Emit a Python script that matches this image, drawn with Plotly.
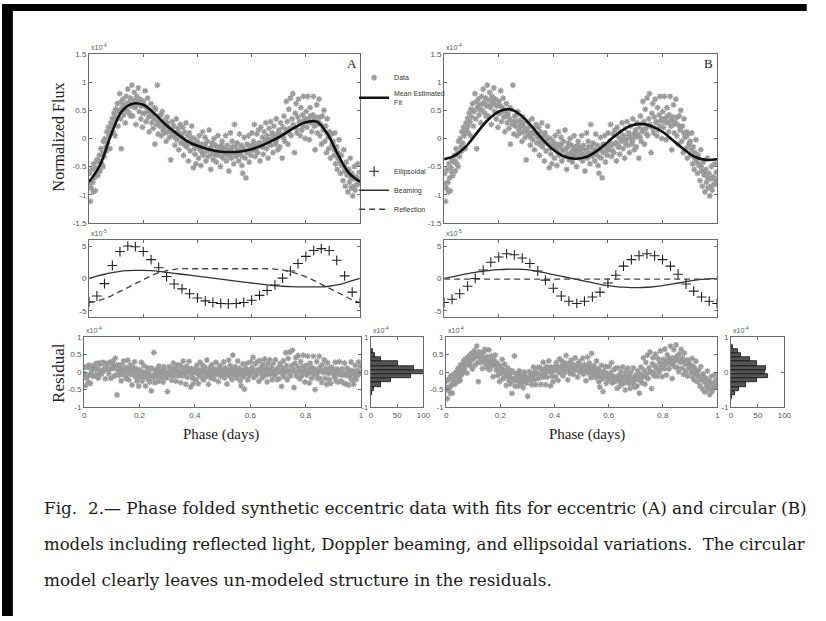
import numpy as np
import plotly.graph_objects as go

W, H = 826, 621

# ---- phase-folded synthetic light curve (flux in units of 1e-4) ----
phase = [
    0.002, 0.005, 0.008, 0.011, 0.014, 0.017, 0.020, 0.023, 0.026, 0.029, 0.032, 0.035, 0.038, 0.041, 0.044, 0.047, 0.050,
    0.053, 0.056, 0.059, 0.062, 0.065, 0.068, 0.071, 0.074, 0.077, 0.080, 0.083, 0.086, 0.089, 0.092, 0.095, 0.098,
    0.101, 0.104, 0.107, 0.110, 0.113, 0.116, 0.119, 0.122, 0.125, 0.128, 0.131, 0.134, 0.137, 0.140, 0.143, 0.146, 0.149,
    0.152, 0.155, 0.158, 0.161, 0.164, 0.167, 0.170, 0.173, 0.176, 0.179, 0.182, 0.185, 0.188, 0.191, 0.194, 0.197,
    0.201, 0.204, 0.207, 0.210, 0.213, 0.216, 0.219, 0.222, 0.225, 0.228, 0.231, 0.234, 0.237, 0.240, 0.243, 0.246, 0.249,
    0.252, 0.255, 0.258, 0.261, 0.264, 0.267, 0.270, 0.273, 0.276, 0.279, 0.282, 0.285, 0.288, 0.291, 0.294, 0.297,
    0.301, 0.304, 0.307, 0.310, 0.313, 0.316, 0.319, 0.322, 0.325, 0.328, 0.331, 0.334, 0.337, 0.340, 0.343, 0.346, 0.349,
    0.352, 0.355, 0.358, 0.361, 0.364, 0.367, 0.370, 0.373, 0.376, 0.379, 0.382, 0.385, 0.388, 0.391, 0.394, 0.397,
    0.401, 0.404, 0.407, 0.410, 0.413, 0.416, 0.419, 0.422, 0.425, 0.428, 0.431, 0.434, 0.437, 0.440, 0.443, 0.446, 0.449,
    0.452, 0.455, 0.458, 0.461, 0.464, 0.467, 0.470, 0.473, 0.476, 0.479, 0.482, 0.485, 0.488, 0.491, 0.494, 0.497,
    0.501, 0.504, 0.507, 0.510, 0.513, 0.516, 0.519, 0.522, 0.525, 0.528, 0.531, 0.534, 0.537, 0.540, 0.543, 0.546, 0.549,
    0.552, 0.555, 0.558, 0.561, 0.564, 0.567, 0.570, 0.573, 0.576, 0.579, 0.582, 0.585, 0.588, 0.591, 0.594, 0.597,
    0.601, 0.604, 0.607, 0.610, 0.613, 0.616, 0.619, 0.622, 0.625, 0.628, 0.631, 0.634, 0.637, 0.640, 0.643, 0.646, 0.649,
    0.652, 0.655, 0.658, 0.661, 0.664, 0.667, 0.670, 0.673, 0.676, 0.679, 0.682, 0.685, 0.688, 0.691, 0.694, 0.697,
    0.701, 0.704, 0.707, 0.710, 0.713, 0.716, 0.719, 0.722, 0.725, 0.728, 0.731, 0.734, 0.737, 0.740, 0.743, 0.746, 0.749,
    0.752, 0.755, 0.758, 0.761, 0.764, 0.767, 0.770, 0.773, 0.776, 0.779, 0.782, 0.785, 0.788, 0.791, 0.794, 0.797,
    0.801, 0.804, 0.807, 0.810, 0.813, 0.816, 0.819, 0.822, 0.825, 0.828, 0.831, 0.834, 0.837, 0.840, 0.843, 0.846, 0.849,
    0.852, 0.855, 0.858, 0.861, 0.864, 0.867, 0.870, 0.873, 0.876, 0.879, 0.882, 0.885, 0.888, 0.891, 0.894, 0.897,
    0.901, 0.904, 0.907, 0.910, 0.913, 0.916, 0.919, 0.922, 0.925, 0.928, 0.931, 0.934, 0.937, 0.940, 0.943, 0.946, 0.949,
    0.952, 0.955, 0.958, 0.961, 0.964, 0.967, 0.970, 0.973, 0.976, 0.979, 0.982, 0.985, 0.988, 0.991, 0.994, 0.997,
    0.0035, 0.0155, 0.0275, 0.0395, 0.0515, 0.0635, 0.0755, 0.0875, 0.0965,
    0.1055, 0.1175, 0.1295, 0.1415, 0.1535, 0.1655, 0.1775, 0.1895, 0.1985,
    0.2055, 0.2175, 0.2295, 0.2415, 0.2535, 0.2655, 0.2775, 0.2895, 0.2985,
    0.3055, 0.3175, 0.3295, 0.3415, 0.3535, 0.3655, 0.3775, 0.3895, 0.3985,
    0.4055, 0.4175, 0.4295, 0.4415, 0.4535, 0.4655, 0.4775, 0.4895, 0.4985,
    0.5055, 0.5175, 0.5295, 0.5415, 0.5535, 0.5655, 0.5775, 0.5895, 0.5985,
    0.6055, 0.6175, 0.6295, 0.6415, 0.6535, 0.6655, 0.6775, 0.6895, 0.6985,
    0.7055, 0.7175, 0.7295, 0.7415, 0.7535, 0.7655, 0.7775, 0.7895, 0.7985,
    0.8055, 0.8175, 0.8295, 0.8415, 0.8535, 0.8655, 0.8775, 0.8895, 0.8985,
    0.9055, 0.9175, 0.9295, 0.9415, 0.9535, 0.9655, 0.9775, 0.9895, 0.9985,
]
flux = [
    -0.62, -1.12, -0.88, -0.55, -0.78, -0.45, -0.70, -0.93, -0.52, -0.38, -0.66, -0.42, -0.30, -0.58, -0.18, -0.45, -0.26,
    -0.05, -0.32, 0.00, -0.15, 0.12, -0.08, 0.20, 0.05, -0.18, 0.28, 0.15, 0.36, 0.10, 0.45, 0.30, 0.52,
    0.38, 0.62, 0.22, 0.48, 0.80, 0.35, -0.18, 0.55, 0.70, 0.42, 0.60, 0.28, 0.75, 0.50, 0.88, 0.64, 0.45,
    0.72, 0.58, 0.95, 0.40, 0.68, 0.82, 0.55, 0.25, 0.75, 0.62, 0.90, 0.48, 0.70, 0.35, 0.58, 0.20,
    0.66, 0.45, 0.85, 0.30, 0.55, 0.72, 0.38, 0.12, 0.50, 0.62, 0.28, 0.44, 0.18, 0.35, -0.10, 0.52, 0.25,
    0.95, 0.08, 0.40, 0.22, 0.30, 0.05, 0.48, 0.15, 0.32, 0.10, 0.25, -0.05, 0.38, 0.12, 0.20, 0.02,
    -0.38, 0.15, 0.30, 0.05, 0.22, -0.12, 0.10, 0.35, -0.02, 0.18, -0.20, 0.08, 0.25, -0.08, 0.02, 0.20, -0.30,
    0.12, -0.05, 0.28, -0.15, 0.05, -0.40, 0.10, -0.22, -0.02, 0.22, -0.10, -0.52, 0.00, -0.28, -0.45, -0.12,
    -0.08, -0.35, 0.05, -0.20, -0.48, -0.10, 0.12, -0.30, -0.15, 0.02, -0.40, -0.22, -0.05, -0.32, 0.15, -0.18, -0.55,
    -0.28, -0.08, -0.38, 0.00, -0.25, -0.12, -0.42, -0.20, 0.05, -0.30, -0.15, -0.50, -0.22, -0.05, -0.35, -0.18,
    -0.25, 0.05, -0.40, -0.12, -0.30, -0.58, -0.20, 0.10, -0.35, -0.05, -0.25, -0.45, 0.25, -0.15, -0.32, -0.08, -0.22,
    -0.40, 0.08, -0.28, -0.12, -0.48, -0.62, -0.18, 0.02, -0.35, -0.70, -0.10, -0.25, 0.05, -0.42, -0.15, -0.30,
    0.10, -0.20, -0.05, 0.25, -0.32, -0.12, 0.08, -0.25, 0.15, -0.08, -0.40, 0.20, -0.15, 0.02, -0.28, 0.12, -0.05,
    0.28, -0.18, 0.05, -0.35, 0.18, -0.02, 0.30, -0.12, 0.10, -0.25, 0.22, 0.00, -0.10, 0.35, 0.08, -0.20,
    0.15, -0.15, 0.28, 0.05, -0.35, 0.20, 0.40, -0.05, 0.12, 0.66, 0.30, -0.10, 0.52, 0.18, 0.72, 0.05, 0.35,
    0.80, 0.22, -0.25, 0.45, 0.62, 0.10, 0.38, 0.70, 0.28, 0.05, 0.55, 0.15, 0.42, 0.75, 0.32, 0.00,
    0.48, 0.20, 0.75, 0.35, -0.02, 0.55, 0.28, 0.12, 0.42, 0.75, 0.22, -0.20, 0.38, 0.60, 0.10, 0.30, 0.70,
    0.05, 0.25, -0.10, 0.40, 0.15, 0.50, -0.05, 0.22, -0.25, 0.35, 0.02, -0.18, 0.12, -0.35, 0.08, -0.12,
    -0.05, -0.30, 0.10, -0.45, -0.15, -0.55, -0.25, -0.02, -0.40, -0.62, -0.30, -0.48, -0.75, -0.20, -0.58, -0.85, -0.42,
    -0.65, -0.95, -0.55, -0.78, -0.35, -0.88, -0.62, -1.02, -0.72, -0.50, -0.92, -0.68, -0.82, -0.45, -0.75, -0.60,
    -0.80, -0.95, -0.60, -0.40, -0.50, -0.22, 0.10, 0.22, 0.05,
    0.50, 0.65, 0.52, 0.62, 0.40, 0.58, 0.68, 0.60, 0.45,
    0.58, 0.48, 0.40, 0.55, 0.30, 0.42, 0.20, 0.28, 0.15,
    0.10, 0.02, 0.12, 0.05, -0.12, -0.08, 0.02, -0.18, -0.05,
    -0.15, -0.25, -0.10, -0.20, -0.15, -0.30, -0.22, -0.12, -0.28,
    -0.18, -0.30, -0.15, -0.28, -0.20, -0.32, -0.22, -0.12, -0.20,
    -0.12, -0.22, -0.08, -0.15, -0.02, -0.10, 0.05, -0.05, 0.02,
    0.08, 0.02, 0.15, 0.08, 0.25, 0.18, 0.30, 0.22, 0.35,
    0.30, 0.40, 0.32, 0.25, 0.38, 0.20, 0.10, 0.05, -0.08,
    -0.20, -0.35, -0.45, -0.50, -0.60, -0.70, -0.85, -0.70, -0.80,
]

# ---- mean estimated fits (units of 1e-4) on a coarse phase grid ----
fit_phase = [0.00, 0.04, 0.08, 0.12, 0.16, 0.20, 0.24, 0.28, 0.32, 0.36, 0.40, 0.44, 0.48,
             0.52, 0.56, 0.60, 0.64, 0.68, 0.72, 0.76, 0.80, 0.84, 0.88, 0.92, 0.96, 1.00]
fit_ecc = [-0.77, -0.48, 0.05, 0.48, 0.62, 0.60, 0.45, 0.26, 0.10, -0.04, -0.13, -0.19, -0.23,
           -0.24, -0.23, -0.19, -0.12, -0.03, 0.08, 0.20, 0.29, 0.30, 0.08, -0.30, -0.62, -0.77]
fit_circ = [-0.37, -0.30, -0.14, 0.10, 0.33, 0.48, 0.52, 0.42, 0.22, -0.01, -0.20, -0.32, -0.36,
            -0.33, -0.22, -0.06, 0.10, 0.22, 0.26, 0.22, 0.12, -0.04, -0.20, -0.33, -0.38, -0.37]

# ---- model components (units of 1e-5), 36 phase samples ----
comp_phase = [0.000, 0.029, 0.057, 0.086, 0.114, 0.143, 0.171, 0.200, 0.229, 0.257, 0.286, 0.314,
              0.343, 0.371, 0.400, 0.429, 0.457, 0.486, 0.514, 0.543, 0.571, 0.600, 0.629, 0.657,
              0.686, 0.714, 0.743, 0.771, 0.800, 0.829, 0.857, 0.886, 0.914, 0.943, 0.971, 1.000]
ellip_ecc = [-3.6, -2.7, -0.8, 2.0, 4.15, 5.0, 4.9, 4.15, 2.9, 1.65, 0.3, -0.85,
             -1.6, -2.35, -3.0, -3.45, -3.7, -3.85, -3.9, -3.85, -3.7, -3.35, -2.6, -1.85,
             -1.0, 0.05, 1.15, 2.3, 3.4, 4.3, 4.6, 4.3, 2.8, 0.4, -2.1, -3.7]
beam_ecc = [0.0, 0.35, 0.65, 0.9, 1.1, 1.2, 1.25, 1.25, 1.2, 1.1, 0.95, 0.8,
            0.65, 0.5, 0.35, 0.2, 0.05, -0.1, -0.25, -0.4, -0.55, -0.7, -0.85, -1.0,
            -1.1, -1.2, -1.25, -1.3, -1.3, -1.3, -1.3, -1.2, -1.0, -0.7, -0.35, 0.0]
refl_ecc = [-3.7, -3.5, -3.1, -2.6, -2.0, -1.4, -0.8, -0.2, 0.4, 0.9, 1.2, 1.4,
            1.5, 1.5, 1.5, 1.5, 1.5, 1.5, 1.5, 1.5, 1.5, 1.5, 1.5, 1.5,
            1.45, 1.3, 1.05, 0.7, 0.25, -0.3, -0.9, -1.5, -2.1, -2.7, -3.3, -3.7]
ellip_circ = [-3.7, -3.2, -2.35, -1.2, 0.0, 1.3, 2.5, 3.3, 3.8, 3.65, 3.15, 2.3,
              1.15, -0.25, -1.5, -2.7, -3.5, -3.85, -3.5, -2.85, -2.1, -0.7, 0.5, 1.9,
              2.9, 3.5, 3.8, 3.5, 2.9, 1.9, 0.65, -0.85, -1.95, -2.85, -3.5, -3.85]
beam_circ = [0.0, 0.25, 0.5, 0.75, 0.95, 1.1, 1.25, 1.35, 1.42, 1.45, 1.4, 1.3,
             1.1, 0.85, 0.6, 0.35, 0.1, -0.15, -0.4, -0.65, -0.9, -1.1, -1.25, -1.35,
             -1.4, -1.4, -1.35, -1.25, -1.1, -0.9, -0.7, -0.5, -0.3, -0.15, -0.05, 0.0]
refl_circ = [-0.1, -0.1, -0.1, -0.1, -0.1, -0.1, -0.1, -0.1, -0.1, -0.1, -0.1, -0.1,
             -0.1, -0.1, -0.1, -0.1, -0.1, -0.1, -0.1, -0.1, -0.1, -0.1, -0.1, -0.1,
             -0.1, -0.1, -0.1, -0.1, -0.1, -0.1, -0.1, -0.1, -0.1, -0.1, -0.1, -0.1]

phase_ticks = [0, 0.2, 0.4, 0.6, 0.8, 1]
phase_ticktext = ["0", "0.2", "0.4", "0.6", "0.8", "1"]

# residuals = data minus the mean model evaluated at each data phase
ph = np.array(phase)
fx = np.array(flux)
resid_ecc = fx - np.interp(ph, fit_phase, fit_ecc)
resid_circ = fx - np.interp(ph, fit_phase, fit_circ)

# ---- panel geometry (pixels) ----
def xd(a, b):
    return [a / W, b / W]

def yd(top, bottom):
    return [1 - bottom / H, 1 - top / H]

FRAME = "#6a6a6a"
TICKFONT = dict(family="Liberation Sans, Arial", size=8, color="#555")
DATA_COL = "#9a9a9a"

def axis(domain, rng, tickvals=None, ticktext=None, labels=True, anchor=None):
    d = dict(domain=domain, range=rng, showline=True, linecolor=FRAME, linewidth=1,
             mirror="ticks", ticks="inside", ticklen=3, tickcolor=FRAME,
             showgrid=False, zeroline=False, tickfont=TICKFONT,
             showticklabels=labels, fixedrange=True)
    if tickvals is not None:
        d["tickvals"] = tickvals
    if ticktext is not None:
        d["ticktext"] = ticktext
    if anchor:
        d["anchor"] = anchor
    return d

fig = go.Figure()

star = dict(symbol="asterisk-open", size=5, color=DATA_COL, line=dict(color=DATA_COL, width=1.3))
cross = dict(symbol="cross-thin-open", size=7, color="#222", line=dict(color="#222", width=1.1))

panels = [
    (("", "2", "3", "4"), fit_ecc, ellip_ecc, beam_ecc, refl_ecc, resid_ecc, True),
    (("5", "6", "7", "8"), fit_circ, ellip_circ, beam_circ, refl_circ, resid_circ, False),
]

for (st, sm, sr, sh), fit, el, bm, rf, res, show in panels:
    fig.add_trace(go.Scatter(x=phase, y=flux, mode="markers", marker=star, name="Data",
                             xaxis="x" + st, yaxis="y" + st, showlegend=show, legend="legend"))
    fig.add_trace(go.Scatter(x=fit_phase, y=fit, mode="lines", line=dict(color="#111", width=2.6, shape="spline"),
                             name="Mean Estimated<br>Fit", xaxis="x" + st, yaxis="y" + st,
                             showlegend=show, legend="legend"))
    fig.add_trace(go.Scatter(x=comp_phase, y=el, mode="markers", marker=cross, name="Ellipsoidal",
                             xaxis="x" + sm, yaxis="y" + sm, showlegend=show, legend="legend2"))
    fig.add_trace(go.Scatter(x=comp_phase, y=bm, mode="lines", line=dict(color="#333", width=1.3, shape="spline"),
                             name="Beaming", xaxis="x" + sm, yaxis="y" + sm, showlegend=show, legend="legend2"))
    fig.add_trace(go.Scatter(x=comp_phase, y=rf, mode="lines",
                             line=dict(color="#444", width=1.3, dash="6px,4px", shape="spline"),
                             name="Reflection", xaxis="x" + sm, yaxis="y" + sm, showlegend=show, legend="legend2"))
    fig.add_trace(go.Scatter(x=phase, y=res, mode="markers", marker=star, showlegend=False,
                             xaxis="x" + sr, yaxis="y" + sr))
    fig.add_trace(go.Histogram(y=res, orientation="h", ybins=dict(start=-1.02, end=1.02, size=0.12),
                               marker=dict(color="#555", line=dict(color="#111", width=0.8)),
                               showlegend=False, xaxis="x" + sh, yaxis="y" + sh))

def key(prefix, s):
    return prefix + ("axis" + s if s else "axis")

lay = {}
cols = [((88, 362), (83, 363), (373, 426)), ((447, 723), (449, 723), (737, 791))]
for (st, sm, sr, sh), (main_x, res_x, hist_x) in zip([("", "2", "3", "4"), ("5", "6", "7", "8")], cols):
    lay[key("x", st)] = axis(xd(*main_x), [0, 1], phase_ticks, labels=False, anchor="y" + st)
    lay[key("y", st)] = axis(yd(51, 222), [-1.5, 1.5], [-1.5, -1, -0.5, 0, 0.5, 1, 1.5],
                             ["-1.5", "-1", "-0.5", "0", "0.5", "1", "1.5"], anchor="x" + st)
    lay[key("x", sm)] = axis(xd(*main_x), [0, 1], phase_ticks, labels=False, anchor="y" + sm)
    lay[key("y", sm)] = axis(yd(239, 318), [-6, 6], [-5, 0, 5], ["-5", "0", "5"], anchor="x" + sm)
    lay[key("x", sr)] = axis(xd(*res_x), [0, 1], phase_ticks, phase_ticktext, anchor="y" + sr)
    lay[key("y", sr)] = axis(yd(338, 409), [-1, 1], [-1, -0.5, 0, 0.5, 1],
                             ["-1", "-0.5", "0", "0.5", "1"], anchor="x" + sr)
    lay[key("x", sh)] = axis(xd(*hist_x), [0, 100], [0, 50, 100], ["0", "50", "100"], anchor="y" + sh)
    lay[key("y", sh)] = axis(yd(338, 409), [-1, 1], [-1, 0, 1], ["-1", "0", "1"], anchor="x" + sh)

annotations = []
exp_font = dict(family="Liberation Sans, Arial", size=7, color="#555")
for x_left, top, txt in [(88, 51, "x10<sup>-4</sup>"), (88, 239, "x10<sup>-5</sup>"),
                         (83, 338, "x10<sup>-4</sup>"), (373, 338, "x10<sup>-4</sup>"),
                         (447, 51, "x10<sup>-4</sup>"), (447, 239, "x10<sup>-5</sup>"),
                         (449, 338, "x10<sup>-4</sup>"), (737, 338, "x10<sup>-4</sup>")]:
    annotations.append(dict(x=x_left / W, y=1 - (top - 1) / H, xref="paper", yref="paper", text=txt,
                            showarrow=False, xanchor="left", yanchor="bottom", font=exp_font))

serif = "Liberation Serif, Times New Roman, serif"

def label(x, y, text, size, angle=0):
    return dict(x=x / W, y=1 - y / H, xref="paper", yref="paper", text=text, textangle=angle,
                showarrow=False, xanchor="center", yanchor="middle",
                font=dict(family=serif, size=size, color="#222"))

annotations += [
    dict(x=0.971, y=0.947, xref="x domain", yref="y domain", text="A", showarrow=False,
         xanchor="center", yanchor="middle", font=dict(family=serif, size=13, color="#222")),
    dict(x=0.967, y=0.947, xref="x5 domain", yref="y5 domain", text="B", showarrow=False,
         xanchor="center", yanchor="middle", font=dict(family=serif, size=13, color="#222")),
    label(57, 135, "Normalized Flux", 16, -90),
    label(57, 374, "Residual", 17, -90),
    label(221, 437, "Phase (days)", 15),
    label(591, 437, "Phase (days)", 15),
]

caption = [
    "Fig.  2.— Phase folded synthetic eccentric data with fits for eccentric (A) and circular (B)",
    "models including reflected light, Doppler beaming, and ellipsoidal variations.  The circular",
    "model clearly leaves un-modeled structure in the residuals.",
]
for line, yc, fs in zip(caption, [511, 548, 584], [16.85, 16.52, 16.85]):
    annotations.append(dict(x=40 / W, y=1 - yc / H, xref="paper", yref="paper", text=line,
                            showarrow=False, xanchor="left", yanchor="middle",
                            font=dict(family="DejaVu Serif, serif", size=fs, color="#1a1a1a")))

# dark scan border along the left and top edges of the page
shapes = [
    dict(type="rect", xref="paper", yref="paper", x0=0, x1=11 / W, y0=0, y1=1,
         fillcolor="black", line=dict(width=0), layer="above"),
    dict(type="rect", xref="paper", yref="paper", x0=0, x1=0.985, y0=1 - 7 / H, y1=1,
         fillcolor="black", line=dict(width=0), layer="above"),
]

leg_common = dict(xanchor="left", yanchor="top", bgcolor="rgba(0,0,0,0)",
                  font=dict(family="Liberation Sans, Arial", size=7, color="#333"),
                  itemclick=False, itemdoubleclick=False, tracegroupgap=0)

fig.update_layout(
    width=W, height=H, margin=dict(l=0, r=0, t=0, b=0),
    paper_bgcolor="white", plot_bgcolor="white",
    annotations=annotations, shapes=shapes, bargap=0,
    legend=dict(x=356 / W, y=1 - 60 / H, **leg_common),
    legend2=dict(x=356 / W, y=1 - 155 / H, **leg_common),
    **lay,
)

fig.write_html("out.html")
